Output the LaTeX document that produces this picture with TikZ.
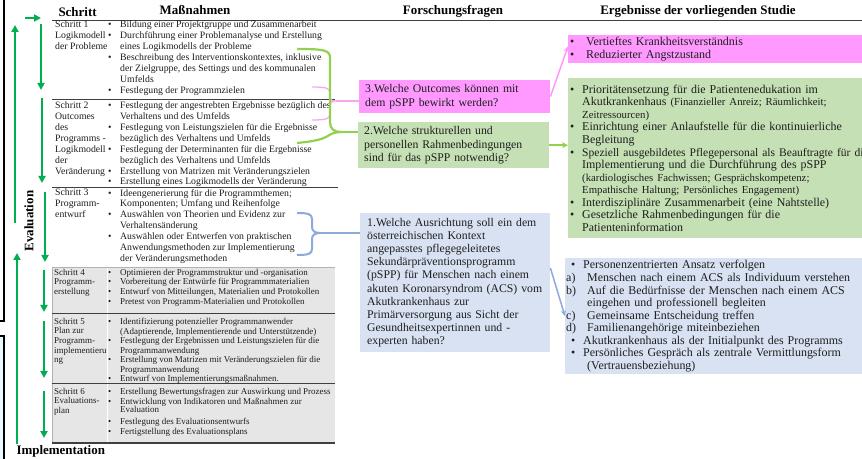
\documentclass[tikz,border=0pt]{standalone}
\usepackage{fontspec}
\setmainfont{Liberation Serif}
\usetikzlibrary{arrows.meta}
\definecolor{Ink}{HTML}{1E1E1E}
\definecolor{StepGreen}{HTML}{00B050}
\definecolor{LinkGreen}{HTML}{92D050}
\definecolor{LinkPink}{HTML}{F9A8EC}
\definecolor{LinkBlue}{HTML}{8EA9DB}
\definecolor{AskPink}{HTML}{FF99FF}
\definecolor{AskGreen}{HTML}{C5E0B4}
\definecolor{AskBlue}{HTML}{D9E2F3}
\definecolor{RowGray}{HTML}{E6E6E6}
\definecolor{FrameCyan}{HTML}{E8FBFC}
\newcommand{\tabfont}{\fontsize{9.8}{10.9}\selectfont}
\newcommand{\lowfont}{\fontsize{9}{9.6}\selectfont}
\newcommand{\askfont}{\fontsize{11.8}{13.2}\selectfont}
\newcommand{\resfont}{\fontsize{12}{12.6}\selectfont}
\newcommand{\resnote}{\fontsize{10.8}{12.6}\selectfont}
\newcommand{\headfont}{\fontsize{13}{14}\selectfont\bfseries}
\newcommand{\bul}[1][12bp]{\makebox[#1][l]{\textbullet}}
\newcommand{\hang}[1][12bp]{\hspace*{#1}}
\tikzset{
  steparrow/.style={StepGreen, line width=2.4bp, -{Triangle[width=7bp,length=7bp]}},
  rowtext/.style={anchor=north west, inner sep=0pt, align=left, text=Ink, font=\tabfont},
  askbox/.style={anchor=north west, inner xsep=6bp, inner ysep=0pt, align=left, text=Ink, font=\askfont},
  resbox/.style={anchor=north west, inner xsep=2bp, inner ysep=0pt, align=left, text=Ink, font=\resfont},
  rowline/.style={draw=Ink!85, line width=0.9bp}
}

\begin{document}
\begin{tikzpicture}[x=1bp,y=-1bp]
  \useasboundingbox (0,0) rectangle (862,459);
  \fill[white] (0,0) rectangle (862,459);

  % frames cut off at the left
  \fill[FrameCyan] (0,336) rectangle (4,459);
  \draw[line width=1.3bp] (4,0) -- (4,321) -- (0,321);
  \draw[line width=1.3bp] (0,336) -- (4,336) -- (4,459);

  % table grid
  \fill[RowGray] (52,267) rectangle (335,443);
  \draw[white, line width=1bp] (107,267) -- (107,443);
  \draw[gray!60, line width=0.5bp] (52,267) -- (52,443) (52,267) -- (335,267);
  \draw[rowline] (52,20) -- (862,20);
  \draw[rowline] (52,99) -- (335,99);
  \draw[rowline] (52,187) -- (338,187);
  \draw[rowline] (52,313) -- (335,313);
  \draw[rowline] (52,383) -- (335,383);
  \draw[rowline, line width=1.3bp] (52,443) -- (335,443);

  % headings
  \node[anchor=base west, font=\headfont] (hstep) at (55,17) {Schritt};
  \node[anchor=base, font=\headfont] (hmeasure) at (195,15) {Maßnahmen};
  \node[anchor=base, font=\headfont] (hquest) at (453,15) {Forschungsfragen};
  \node[anchor=base, font=\headfont] (hresult) at (698,15) {Ergebnisse der vorliegenden Studie};
  \node[rotate=90, font=\headfont] (evallabel) at (29,221) {Evaluation};
  \node[anchor=base west, font=\headfont] (impllabel) at (13,454) {Implementation};

  % steps 1-3
  \node[rowtext] (step1) at (55,21) {Schritt 1\\Logikmodell\\der Probleme};
  \node[rowtext] (meas1) at (108,21) {\bul Bildung einer Projektgruppe und Zusammenarbeit\\
    \bul Durchführung einer Problemanalyse und Erstellung\\
    \hang eines Logikmodells der Probleme\\
    \bul Beschreibung des Interventionskontextes, inklusive\\
    \hang der Zielgruppe, des Settings und des kommunalen\\
    \hang Umfelds\\
    \bul Festlegung der Programmzielen};
  \node[rowtext] (step2) at (55,102) {Schritt 2\\Outcomes\\des\\Programms -\\Logikmodell\\der\\Veränderung};
  \node[rowtext] (meas2) at (108,102) {\bul Festlegung der angestrebten Ergebnisse bezüglich des\\
    \hang Verhaltens und des Umfelds\\
    \bul Festlegung von Leistungszielen für die Ergebnisse\\
    \hang bezüglich des Verhaltens und Umfelds\\
    \bul Festlegung der Determinanten für die Ergebnisse\\
    \hang bezüglich des Verhaltens und Umfelds\\
    \bul Erstellung von Matrizen mit Veränderungszielen\\
    \bul Erstellung eines Logikmodells der Veränderung};
  \node[rowtext] (step3) at (55,189) {Schritt 3\\Programm-\\entwurf};
  \node[rowtext] (meas3) at (108,189) {\bul Ideengenerierung für die Programmthemen;\\
    \hang Komponenten; Umfang und Reihenfolge\\
    \bul Auswählen von Theorien und Evidenz zur\\
    \hang Verhaltensänderung\\
    \bul Auswählen oder Entwerfen von praktischen\\
    \hang Anwendungsmethoden zur Implementierung\\
    \hang der Veränderungsmethoden};

  % steps 4-6
  \node[rowtext, font=\lowfont] (step4) at (54,269) {Schritt 4\\Programm-\\erstellung};
  \node[rowtext, font=\lowfont] (meas4) at (108,269) {\bul Optimieren der Programmstruktur und -organisation\\
    \bul Vorbereitung der Entwürfe für Programmmaterialien\\
    \bul Entwurf von Mitteilungen, Materialien und Protokollen\\
    \bul Pretest von Programm-Materialien und Protokollen};
  \node[rowtext, font=\lowfont] (step5) at (54,318) {Schritt 5\\Plan zur\\Programm-\\implementieru\\ng};
  \node[rowtext, font=\lowfont] (meas5) at (108,318) {\bul Identifizierung potenzieller Programmanwender\\
    \hang (Adaptierende, Implementierende und Unterstützende)\\
    \bul Festlegung der Ergebnissen und Leistungszielen für die\\
    \hang Programmanwendung\\
    \bul Erstellung von Matrizen mit Veränderungszielen für die\\
    \hang Programmanwendung\\
    \bul Entwurf von Implementierungsmaßnahmen.};
  \node[rowtext, font=\lowfont] (step6) at (54,388) {Schritt 6\\Evaluations-\\plan};
  \node[rowtext, font=\lowfont] (meas6) at (108,388) {\bul Erstellung Bewertungsfragen zur Auswirkung und Prozess\\
    \bul Entwicklung von Indikatoren und Maßnahmen zur\\[-1.5bp]
    \hang Evaluation\\[3bp]
    \bul Festlegung des Evaluationsentwurfs\\
    \bul Fertigstellung des Evaluationsplans};

  % process arrows
  \draw[steparrow] (25,18) -- (41,18);
  \draw[steparrow] (15,223) -- (15,25);
  \draw[steparrow] (17,444) -- (17,253);
  \draw[steparrow] (41,24) -- (41,90);
  \draw[steparrow] (42,98) -- (42,183);
  \draw[steparrow] (45,192) -- (45,262);
  \draw[steparrow] (44,270) -- (44,312);
  \draw[steparrow] (44,321) -- (44,378);
  \draw[steparrow] (44,391) -- (44,438);

  % research questions
  \node[askbox, fill=AskPink, minimum width=191bp, minimum height=33bp, text width=179bp] (q3) at (359,80)
    {3.Welche Outcomes können mit\\dem pSPP bewirkt werden?};
  \node[askbox, fill=AskGreen, minimum width=191bp, minimum height=46bp, text width=179bp] (q2) at (358,122)
    {2.Welche strukturellen und\\personellen Rahmenbedingungen\\sind für das pSPP notwendig?};
  \node[askbox, fill=AskBlue, inner xsep=7bp, minimum width=190bp, minimum height=139bp, text width=176bp] (q1) at (360,213)
    {1.Welche Ausrichtung soll ein dem\\österreichischen Kontext\\angepasstes pflegegeleitetes\\Sekundärpräventionsprogramm\\(pSPP) für Menschen nach einem\\akuten Koronarsyndrom (ACS) vom\\Akutkrankenhaus zur\\Primärversorgung aus Sicht der\\Gesundheitsexpertinnen und -\\experten haben?};

  % results
  \node[resbox, fill=AskPink, text width=292bp, minimum height=28bp] (r3) at (568,35)
    {\bul[16bp]Vertieftes Krankheitsverständnis\\\bul[16bp]Reduzierter Angstzustand};
  \node[resbox, fill=AskGreen, text width=292bp, minimum height=160bp] (r2) at (568,78)
    {\bul Prioritätensetzung für die Patientenedukation im\\
    \hang Akutkrankenhaus {\resnote(Finanzieller Anreiz; Räumlichkeit;}\\
    \hang {\resnote Zeitressourcen)}\\
    \bul Einrichtung einer Anlaufstelle für die kontinuierliche\\
    \hang Begleitung\\
    \bul \mbox{\fontsize{11.6}{12.6}\selectfont Speziell ausgebildetes Pflegepersonal als Beauftragte für di}\\
    \hang Implementierung und die Durchführung des pSPP\\
    \hang {\resnote(kardiologisches Fachwissen; Gesprächskompetenz;}\\
    \hang {\resnote Empathische Haltung; Persönliches Engagement)}\\
    \bul Interdisziplinäre Zusammenarbeit (eine Nahtstelle)\\
    \bul Gesetzliche Rahmenbedingungen für die\\
    \hang Patienteninformation};
  \node[resbox, fill=AskBlue, inner xsep=1bp, text width=296bp, minimum height=116bp] (r1) at (565,258)
    {\hspace*{5bp}\bul Personenzentrierten Ansatz verfolgen\\
    \makebox[21bp][l]{a)}Menschen nach einem ACS als Individuum verstehen\\
    \makebox[21bp][l]{b)}Auf die Bedürfnisse der Menschen nach einem ACS\\
    \hang[21bp]eingehen und professionell begleiten\\
    \makebox[21bp][l]{c)}Gemeinsame Entscheidung treffen\\
    \makebox[21bp][l]{d)}Familienangehörige miteinbeziehen\\
    \hspace*{5bp}\bul Akutkrankenhaus als der Initialpunkt des Programms\\
    \hspace*{5bp}\bul Persönliches Gespräch als zentrale Vermittlungsform\\
    \hang[21bp](Vertrauensbeziehung)};

  % braces from the steps to the questions
  \coordinate (ptop) at (312,87);
  \coordinate (ptip) at (336,101);
  \coordinate (pbot) at (312,120);
  \draw[LinkPink, line width=1.3bp] (ptop) .. controls (326,87) and (330,88) .. (330,93) -- (330,97)
    .. controls (330,100) and (332,101) .. (ptip) .. controls (332,101) and (330,102) .. (330,105)
    -- (330,114) .. controls (330,119) and (326,120) .. (pbot);
  \draw[LinkPink, line width=1.3bp] (ptip) -- (ptip -| q3.west);

  \coordinate (gtop) at (297,49);
  \coordinate (gtip) at (341,132);
  \coordinate (gbot) at (297,143);
  \draw[LinkGreen, line width=2.2bp] (gtop) .. controls (324,49) and (330,50) .. (330,58) -- (330,122)
    .. controls (330,129) and (334,132) .. (gtip) .. controls (334,132) and (331,134) .. (326,137)
    .. controls (318,141) and (306,142) .. (gbot);
  \draw[LinkGreen, line width=2.2bp] (gtip) -- (gtip -| q2.west);

  \coordinate (btop) at (297,213);
  \coordinate (btip) at (320,233);
  \coordinate (bbot) at (297,255);
  \draw[LinkBlue, line width=2bp] (btop) .. controls (308,213) and (312,214) .. (312,219) -- (312,227)
    .. controls (312,231) and (315,233) .. (btip) .. controls (315,233) and (312,235) .. (312,239)
    -- (312,249) .. controls (312,254) and (308,255) .. (bbot);
  \draw[LinkBlue, line width=2bp] (btip) -- (btip -| q1.west);

  % questions to results
  \draw[AskPink, line width=1.5bp, -{Stealth[length=6bp,width=5bp]}] (q3.east) -- ([yshift=3bp]r3.west);
  \draw[LinkGreen, line width=1.8bp, -{Stealth[length=6bp,width=6bp]}] (q2.east) -- (q2.east -| r2.west);
  \draw[LinkBlue, line width=1.5bp, -{Stealth[length=6bp,width=5bp]}] ([yshift=-55bp]q1.north east) -- (r1.west);
\end{tikzpicture}
\end{document}
